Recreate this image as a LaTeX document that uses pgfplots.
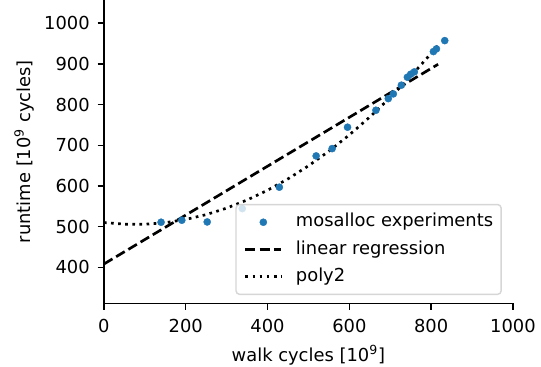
\documentclass[border=0pt]{standalone}
\usepackage{pgfplots}
\pgfplotsset{compat=1.18}
\usepackage{fontspec}
\setmainfont{DejaVu Sans}
\definecolor{mplblue}{HTML}{1F77B4}
\pgfplotsset{
  linelegend/.style={legend image code/.code={\draw[##1, draw opacity=1] (0pt,0pt) -- (20pt,0pt);}},
  marklegend/.style={legend image code/.code={\draw[##1, fill opacity=1, draw opacity=1] plot coordinates {(10pt,0pt)};}},
}
\begin{document}
\begin{tikzpicture}
\path[use as bounding box] (-58.1pt,-35.1pt) rectangle (244.3pt,169.5pt);
\begin{axis}[
  at={(0,0)}, anchor=south west,
  width=228.6pt, height=169.5pt, scale only axis,
  xmin=0, xmax=1000, ymin=311.5, ymax=1057,
  axis lines*=left,
  xtick={0,200,400,600,800,1000}, ytick={400,500,600,700,800,900,1000},
  tick align=outside, major tick length=3.5pt,
  tick style={black, line width=0.8pt},
  axis line style={black, line width=0.8pt},
  /pgf/number format/assume math mode=true,
  /pgf/number format/1000 sep={},
  tick label style={font=\fontsize{10}{12}\selectfont},
  xticklabel style={yshift=-2pt},
  yticklabel style={xshift=-0.9pt},
  xlabel={walk cycles [10\textsuperscript{9}]},
  ylabel={runtime [10\textsuperscript{9} cycles]},
  label style={font=\fontsize{10}{12}\selectfont},
  xlabel style={at={(axis description cs:0.5,-0.1717)}, anchor=center},
  ylabel style={at={(axis description cs:-0.1955,0.5)}, anchor=center},
  legend cell align=left,
  legend style={at={(0.973,0.027)}, anchor=south east,
    draw=black!20, line width=0.8pt, rounded corners=2pt,
    fill=white, fill opacity=0.8, draw opacity=0.8, text opacity=1,
    font=\fontsize{10}{12}\selectfont,
    inner xsep=4.5pt, inner ysep=2.3pt, column sep=7.5pt,
    nodes={inner xsep=0pt, inner ysep=2.6pt, text height=7.6pt, text depth=2.4pt}},
]
\addplot[only marks, mark=*, mark size=2pt, mark options={fill=mplblue, draw=mplblue, line width=0.2pt}, marklegend]
coordinates {
(139.7,510.7) (190.4,515.6) (252.5,511.4) (338.2,544.2) (428.9,596.8)
(518.9,673.7) (558.0,691.7) (595.6,744.3) (665.0,786.0) (695.3,814.6)
(707.6,826.2) (727.2,847.6) (741.9,867.2) (750.0,874.6) (759.0,880.3)
(805.6,930.2) (813.0,936.8) (833.3,957.2)
};
\addlegendentry{mosalloc experiments}
\addplot[black, line width=1.5pt, dash pattern=on 5.55pt off 2.4pt, linelegend]
coordinates {(0,408) (817,899)};
\addlegendentry{linear regression}
\addplot[black, line width=1.5pt, dash pattern=on 1.5pt off 2.475pt, linelegend]
coordinates {
(0,510) (50,505.9) (100,505.7) (150,509.6) (200,517.5) (250,529.4)
(300,545.4) (350,565.3) (400,589.3) (450,617.3) (500,649.3) (550,685.3)
(600,725.3) (650,769.3) (700,817.4) (750,869.4) (800,925.5) (817,945.5)
};
\addlegendentry{poly2}
\end{axis}
\end{tikzpicture}
\end{document}
